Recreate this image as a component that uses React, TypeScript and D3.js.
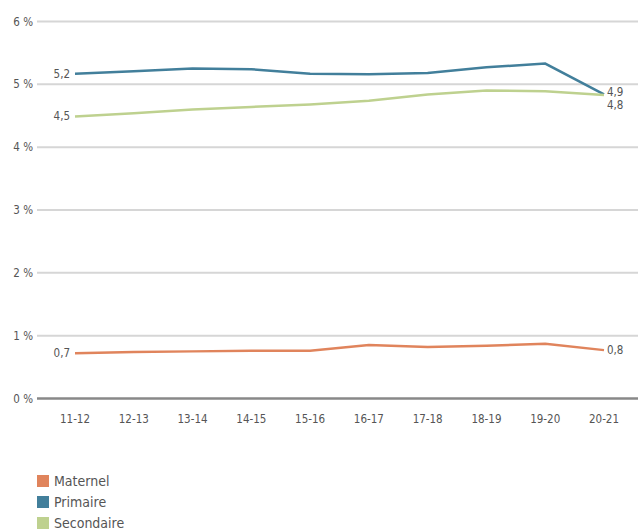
import React from "react";
import * as d3 from "d3";

const categories = ["11-12", "12-13", "13-14", "14-15", "15-16", "16-17", "17-18", "18-19", "19-20", "20-21"];
const maternel = [0.72, 0.74, 0.75, 0.76, 0.76, 0.85, 0.82, 0.84, 0.87, 0.77];
const primaire = [5.17, 5.21, 5.25, 5.24, 5.17, 5.16, 5.18, 5.27, 5.33, 4.84];
const secondaire = [4.49, 4.54, 4.60, 4.64, 4.68, 4.74, 4.84, 4.90, 4.89, 4.83];
const yTicks = [0, 1, 2, 3, 4, 5, 6];
const seriesNames = ["Maternel", "Primaire", "Secondaire"];
const startLabels = ["0,7", "5,2", "4,5"];
const endLabels = ["0,8", "4,9", "4,8"];
const colors = ["#E0845C", "#427F9B", "#BED18F"];

export default function App() {
  const width = 638;
  const height = 530;
  const x = d3.scalePoint<string>().domain(categories).range([75, 604]);
  const y = d3.scaleLinear().domain([0, 6]).range([398.5, 21.5]);
  const data = [maternel, primaire, secondaire];
  const line = d3
    .line<number>()
    .x((_, i) => x(categories[i]) as number)
    .y((d) => y(d));
  const font = "'DejaVu Sans Condensed', 'DejaVu Sans', sans-serif";
  const textColor = "#555";
  const endOffsets = [0, -2, 10];
  return (
    <svg width={width} height={height} style={{ position: "absolute", left: 0, top: 0 }} fontFamily={font}>
      {yTicks.map((t) => (
        <g key={t}>
          <line x1={37} x2={638} y1={y(t)} y2={y(t)} stroke={t === 0 ? "#888" : "#d6d6d6"} strokeWidth={t === 0 ? 2.5 : 2} />
          <text x={33} y={y(t)} dy="0.35em" textAnchor="end" fontSize={11.5} fill={textColor}>
            {t} %
          </text>
        </g>
      ))}
      {categories.map((c) => (
        <text key={c} x={x(c)} y={423} textAnchor="middle" fontSize={11.5} fill={textColor}>
          {c}
        </text>
      ))}
      {data.map((s, k) => (
        <g key={k}>
          <path d={line(s) || ""} fill="none" stroke={colors[k]} strokeWidth={2.5} />
          <text x={70} y={y(s[0])} dy="0.35em" textAnchor="end" fontSize={11.5} fill={textColor}>
            {startLabels[k]}
          </text>
          <text x={607} y={y(s[s.length - 1]) + endOffsets[k]} dy="0.35em" textAnchor="start" fontSize={11.5} fill={textColor}>
            {endLabels[k]}
          </text>
        </g>
      ))}
      {seriesNames.map((n, k) => (
        <g key={n} transform={`translate(37, ${475 + k * 21})`}>
          <rect x={0} y={0} width={12} height={12} fill={colors[k]} />
          <text x={17} y={6} dy="0.38em" fontSize={14} fill={textColor}>
            {n}
          </text>
        </g>
      ))}
    </svg>
  );
}
